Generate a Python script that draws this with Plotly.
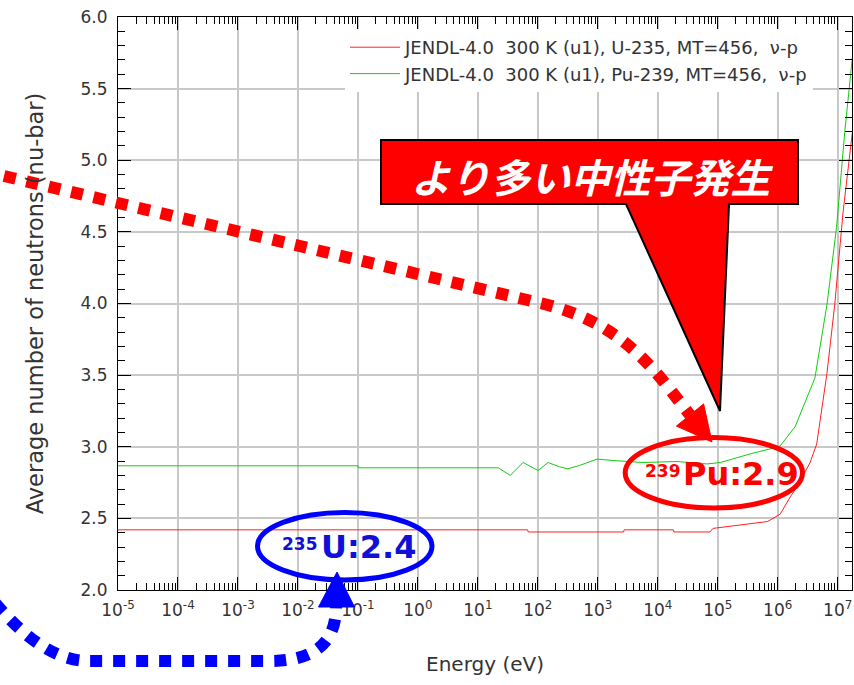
import plotly.graph_objects as go

# ---------------- data ----------------
u235_energy = [1e-5, 67.6, 69.2, 2690, 2750, 18200, 18600, 74100, 83200, 2.51e5,
               6.76e5, 8.32e5, 1.10e6, 1.62e6, 2.09e6, 3.47e6, 4.47e6, 6.61e6,
               8.91e6, 1.23e7, 1.58e7, 2.0e7]
u235_nubar = [2.42, 2.42, 2.405, 2.405, 2.42, 2.42, 2.405, 2.405, 2.43, 2.455,
              2.478, 2.50, 2.53, 2.65, 2.72, 2.89, 3.02, 3.51,
              3.99, 4.64, 5.02, 5.40]

pu239_energy = [1e-5, 0.1, 0.102, 21.9, 34.7, 56.9, 101, 148, 230, 316, 501, 977,
                1780, 5690, 20900, 66100, 1.10e5, 3.47e5, 8.32e5, 1.10e6, 1.95e6,
                4.17e6, 6.61e6, 9.55e6, 1.32e7, 1.70e7, 2.0e7]
pu239_nubar = [2.867, 2.867, 2.853, 2.853, 2.80, 2.89, 2.834, 2.89, 2.86, 2.846, 2.87, 2.914,
               2.904, 2.89, 2.897, 2.88, 2.89, 2.95, 2.99, 3.006, 3.14,
               3.48, 3.99, 4.53, 5.21, 5.67, 5.95]

series_names = ["JENDL-4.0\u00a0\u00a0300 K (u1), U-235, MT=456,\u00a0\u00a0ν-p",
                "JENDL-4.0\u00a0\u00a0300 K (u1), Pu-239, MT=456,\u00a0\u00a0ν-p"]

x_tick_exponents = list(range(-5, 8))
y_tick_values = [2.0, 2.5, 3.0, 3.5, 4.0, 4.5, 5.0, 5.5, 6.0]

# ---------------- geometry helpers (pixel -> paper) ----------------
W, H = 854, 685
L, R, T, B = 118, 852, 17, 590


def px(x):
    return (x - L) / (R - L)


def py(y):
    return (B - y) / (B - T)


def make_path(cmds):
    out = []
    for c, pts in cmds:
        if c == "Z":
            out.append("Z")
            continue
        coords = " ".join(f"{px(a):.5f},{py(b):.5f}" for a, b in pts)
        out.append(f"{c} {coords}")
    return " ".join(out)


fig = go.Figure()
fig.add_trace(go.Scatter(x=u235_energy, y=u235_nubar, mode="lines",
                         line=dict(color="#ff2020", width=1), name=series_names[0]))
fig.add_trace(go.Scatter(x=pu239_energy, y=pu239_nubar, mode="lines",
                         line=dict(color="#11cc11", width=1), name=series_names[1]))

x_max_log = -5 + (R - 117.7) / 60.0

axis_font = dict(family="DejaVu Sans", size=17, color="#333333")

fig.update_xaxes(
    type="log", range=[-5, x_max_log],
    tickvals=[10.0 ** e for e in x_tick_exponents],
    ticktext=[f"10<sup>{e}</sup>" for e in x_tick_exponents],
    ticks="inside", ticklen=13, tickwidth=1, tickcolor="black",
    showline=True, linecolor="black", linewidth=1, mirror="ticks",
    showgrid=True, gridcolor="#c8c8c8", gridwidth=1.5,
    minor=dict(ticks="inside", ticklen=7, tickcolor="black", dtick="D1", showgrid=False),
    tickfont=axis_font, ticklabelstandoff=5,
    title=dict(text="Energy (eV)", font=dict(family="DejaVu Sans", size=20, color="#333333"),
               standoff=37),
    zeroline=False,
)
fig.update_yaxes(
    range=[2.0, 6.0], tickvals=y_tick_values, tickformat=".1f",
    ticks="inside", ticklen=13, tickwidth=1, tickcolor="black",
    showline=True, linecolor="black", linewidth=1, mirror="ticks",
    showgrid=True, gridcolor="#c8c8c8", gridwidth=1.5,
    minor=dict(ticks="inside", ticklen=7, tickcolor="black", dtick=0.1, showgrid=False),
    tickfont=axis_font, ticklabelstandoff=6,
    title=dict(text="Average number of neutrons (nu-bar)",
               font=dict(family="DejaVu Sans", size=22.5, color="#333333"), standoff=30),
    zeroline=False,
)

shapes = []
# red dotted arrow
shapes.append(dict(type="path", xref="paper", yref="paper", layer="above",
                   path=make_path([("M", [(4, 176)]), ("L", [(540, 303)]),
                                   ("C", [(590, 315), (628, 336.2), (668, 387)]),
                                   ("L", [(690, 415)])]),
                   line=dict(color="#ff0000", width=12, dash="12px,11px")))
shapes.append(dict(type="path", xref="paper", yref="paper", layer="above",
                   path=make_path([("M", [(712, 442)]), ("L", [(676.4, 426.1)]),
                                   ("L", [(703.6, 403.9)]), ("Z", [])]),
                   fillcolor="#ff0000", line=dict(color="#ff0000", width=1)))
# blue dotted arrow
shapes.append(dict(type="path", xref="paper", yref="paper", layer="above",
                   path=make_path([("M", [(-5, 603)]), ("Q", [(45, 662), (90, 661)]),
                                   ("L", [(270, 661)]), ("Q", [(336, 661), (336, 607)])]),
                   line=dict(color="#0000ff", width=12, dash="12px,11px")))
shapes.append(dict(type="path", xref="paper", yref="paper", layer="above",
                   path=make_path([("M", [(337, 572)]), ("L", [(318.5, 607)]),
                                   ("L", [(354.5, 607)]), ("Z", [])]),
                   fillcolor="#0000ff", line=dict(color="#0000ff", width=1)))
# ellipses
shapes.append(dict(type="circle", xref="paper", yref="paper", layer="above",
                   x0=px(625.2), x1=px(802.5), y0=py(508), y1=py(437.5),
                   line=dict(color="#ff0000", width=5)))
shapes.append(dict(type="circle", xref="paper", yref="paper", layer="above",
                   x0=px(257.5), x1=px(432), y0=py(580), y1=py(512.5),
                   line=dict(color="#0000ff", width=5)))
# callout
shapes.append(dict(type="path", xref="paper", yref="paper", layer="above",
                   path=make_path([("M", [(381, 140)]), ("L", [(798, 140)]), ("L", [(798, 204)]),
                                   ("L", [(729, 204)]), ("L", [(720, 411)]), ("L", [(626, 204)]),
                                   ("L", [(381, 204)]), ("Z", [])]),
                   fillcolor="#ff0000", line=dict(color="black", width=2)))

annotations = [
    dict(text="より多い中性子発生", xref="paper", yref="paper", x=px(592), y=py(176),
         xanchor="center", yanchor="middle", showarrow=False,
         font=dict(family="Noto Sans CJK JP", size=40, color="white", weight="bold", style="italic")),
    dict(text="239", xref="paper", yref="paper", x=px(643), y=py(471),
         xanchor="left", yanchor="middle", showarrow=False,
         font=dict(family="DejaVu Sans", size=17, color="#ff0000", weight="bold")),
    dict(text="Pu:2.9", xref="paper", yref="paper", x=px(681), y=py(474),
         xanchor="left", yanchor="middle", showarrow=False,
         font=dict(family="DejaVu Sans", size=32, color="#ff0000", weight="bold")),
    dict(text="235", xref="paper", yref="paper", x=px(280), y=py(544),
         xanchor="left", yanchor="middle", showarrow=False,
         font=dict(family="DejaVu Sans", size=17, color="#1010d8", weight="bold")),
    dict(text="U:2.4", xref="paper", yref="paper", x=px(319), y=py(547),
         xanchor="left", yanchor="middle", showarrow=False,
         font=dict(family="DejaVu Sans", size=32, color="#1010d8", weight="bold")),
]

fig.update_layout(
    width=W, height=H,
    margin=dict(l=L, r=W - R, t=T, b=H - B, pad=0, autoexpand=False),
    paper_bgcolor="white", plot_bgcolor="white",
    font=dict(family="DejaVu Sans", color="#333333"),
    showlegend=True,
    legend=dict(x=px(345), y=py(29), xanchor="left", yanchor="top",
                bgcolor="white", borderwidth=0, itemwidth=50,
                font=dict(family="DejaVu Sans", size=18, color="#333333"),
                tracegroupgap=0),
    shapes=shapes, annotations=annotations,
)

fig.write_html("out.html", config={"displayModeBar": False},
               post_script="document.body.style.margin='0';document.body.style.overflow='hidden';")
